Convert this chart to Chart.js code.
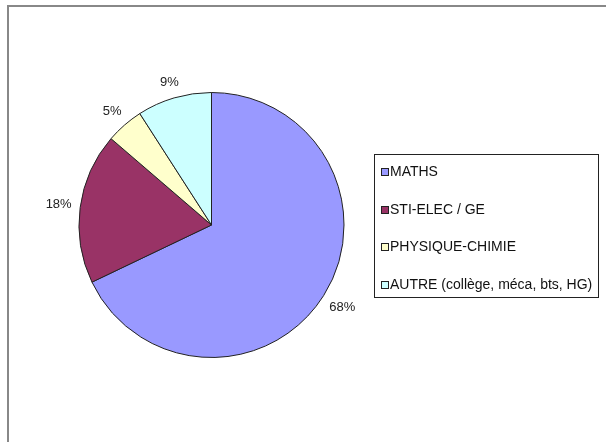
<!DOCTYPE html>
<html>
<head>
<meta charset="utf-8">
<script src="https://cdn.jsdelivr.net/npm/chart.js@4"></script>
<style>
  html, body { margin: 0; padding: 0; background: #fff; }
  #wrap { width: 606px; height: 442px; }
</style>
</head>
<body>
<div id="wrap"><canvas id="pieCanvas" width="606" height="442"></canvas></div>
<script>
// data
var labels = ['MATHS', 'STI-ELEC / GE', 'PHYSIQUE-CHIMIE', 'AUTRE (collège, méca, bts, HG)']
var values = [67.9, 18.4, 4.6, 9.1]
var sliceColors = ['#9999FF', '#993366', '#FFFFCC', '#CCFFFF']

var FONT = '"Liberation Sans", Arial, sans-serif'

// grey frame (only top and left edges are visible)
var framePlugin = {
  id: 'frame',
  beforeDraw: function (chart) {
    var ctx = chart.ctx
    ctx.save()
    ctx.strokeStyle = '#888888'
    ctx.lineWidth = 2
    ctx.beginPath()
    ctx.moveTo(8, 442)
    ctx.lineTo(8, 6)
    ctx.lineTo(606, 6)
    ctx.stroke()
    ctx.restore()
  }
}

// percentage labels outside the slices
var pctPlugin = {
  id: 'pctLabels',
  afterDatasetsDraw: function (chart) {
    var ctx = chart.ctx
    var meta = chart.getDatasetMeta(0)
    var data = chart.data.datasets[0].data
    var total = data.reduce(function (a, b) { return a + b }, 0)
    ctx.save()
    ctx.font = '13px ' + FONT
    ctx.fillStyle = '#222'
    ctx.textAlign = 'center'
    ctx.textBaseline = 'middle'
    meta.data.forEach(function (arc, i) {
      var p = arc.getProps(['x', 'y', 'startAngle', 'endAngle', 'outerRadius'], true)
      var mid = (p.startAngle + p.endAngle) / 2
      var txt = Math.round(data[i] / total * 100) + '%'
      var hw = ctx.measureText(txt).width / 2
      var hh = 6
      var cos = Math.cos(mid)
      var sin = Math.sin(mid)
      var d = p.outerRadius + 8 + hw * Math.abs(cos) + hh * Math.abs(sin)
      ctx.fillText(txt, p.x + cos * d, p.y + sin * d)
    })
    ctx.restore()
  }
}

// boxed legend on the right
var legendPlugin = {
  id: 'boxLegend',
  afterDraw: function (chart) {
    var ctx = chart.ctx
    var ds = chart.data.datasets[0]
    var left = 374, top = 154, w = 224, h = 143
    ctx.save()
    ctx.strokeStyle = '#222'
    ctx.lineWidth = 1
    ctx.strokeRect(left + 0.5, top + 0.5, w, h)
    ctx.font = '14px ' + FONT
    ctx.textBaseline = 'middle'
    ctx.textAlign = 'left'
    chart.data.labels.forEach(function (lab, i) {
      var cy = 172 + i * 37.5
      ctx.fillStyle = ds.backgroundColor[i]
      ctx.fillRect(381, Math.round(cy) - 4, 8, 8)
      ctx.strokeStyle = '#222'
      ctx.strokeRect(381.5, Math.round(cy) - 3.5, 7, 7)
      ctx.fillStyle = '#111'
      ctx.fillText(lab, 390, cy + 0.5)
    })
    ctx.restore()
  }
}

var ctx = document.getElementById('pieCanvas').getContext('2d')
var myPie = new Chart(ctx, {
  type: 'pie',
  data: {
    labels: labels,
    datasets: [{
      data: values,
      backgroundColor: sliceColors,
      borderColor: '#222',
      borderWidth: 1,
      hoverOffset: 0
    }]
  },
  options: {
    responsive: false,
    animation: false,
    layout: {
      padding: { left: 78, top: 92, right: 261, bottom: 84 }
    },
    plugins: {
      legend: { display: false },
      tooltip: { enabled: false }
    }
  },
  plugins: [framePlugin, pctPlugin, legendPlugin]
})
</script>
</body>
</html>
